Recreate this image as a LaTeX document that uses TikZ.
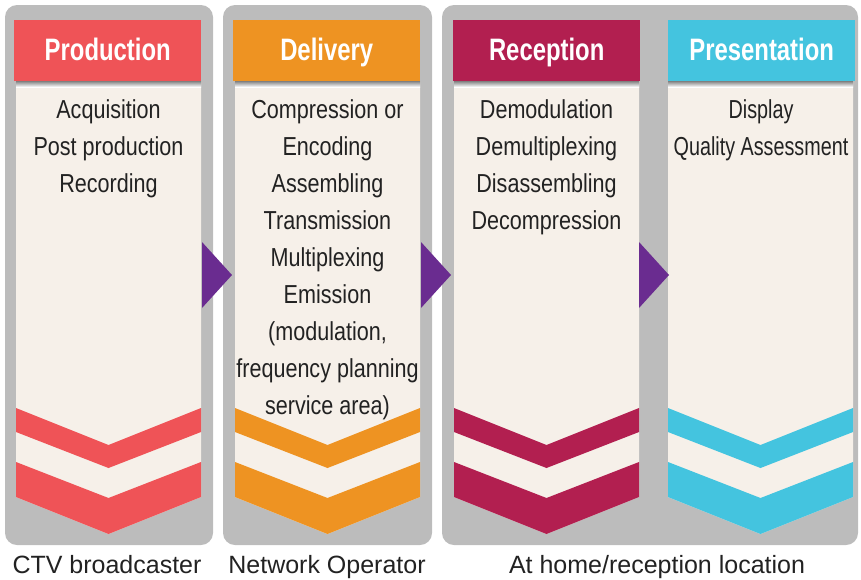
\documentclass[tikz,border=0pt]{standalone}
\usepackage{fontspec}
\setmainfont{Liberation Sans}
\newfontfamily\condfont[FakeStretch=0.83]{Liberation Sans}
\newfontfamily\tightfont[FakeStretch=0.76]{Liberation Sans}
\newfontfamily\headfont[FakeStretch=0.77]{Liberation Sans}

\definecolor{prodred}{HTML}{EF5357}
\definecolor{delorange}{HTML}{EE9322}
\definecolor{recred}{HTML}{B21F50}
\definecolor{prescyan}{HTML}{44C4DF}
\definecolor{paper}{HTML}{F6F0E9}
\definecolor{panelgrey}{HTML}{BCBCBC}
\definecolor{arrowpurple}{HTML}{6A2C90}
\definecolor{shade}{HTML}{C0B6AA}
\definecolor{ink}{HTML}{222222}

\tikzset{
    panel/.style={fill=panelgrey, rounded corners=12pt},
    header/.style={anchor=north west, minimum width=187pt, minimum height=61pt,
        inner sep=0pt, text height=23pt, text depth=4pt, text=white,
        font=\headfont\bfseries\fontsize{31}{31}\selectfont},
    steps/.style={align=center, anchor=base, inner sep=0pt, text=ink,
        font=\condfont\fontsize{26}{37}\selectfont},
    role/.style={anchor=base, inner sep=0pt, text=ink,
        font=\fontsize{25}{25}\selectfont}
}

% beige column with chevron foot: left x, colour
\newcommand{\stagecol}[2]{
    \fill[paper] (#1,81) -- ++(185,0) -- ++(0,416) -- ++(-92.5,37) -- ++(-92.5,-37) -- cycle;
    \fill[#2] (#1,408) -- ++(92.5,37) -- ++(92.5,-37) -- ++(0,24) -- ++(-92.5,36) -- ++(-92.5,-36) -- cycle;
    \fill[#2] (#1,462) -- ++(92.5,36) -- ++(92.5,-36) -- ++(0,35) -- ++(-92.5,37) -- ++(-92.5,-37) -- cycle;
    \fill[shade] (#1,81) rectangle ++(185,6);
}

\begin{document}
\begin{tikzpicture}[x=1pt, y=-1pt]
    \useasboundingbox (0,0) rectangle (861,579);

    \fill[panel] (5,5) rectangle (213,545);
    \fill[panel] (223,5) rectangle (432,545);
    \fill[panel] (442,5) rectangle (858,545);

    \stagecol{16}{prodred}
    \stagecol{235}{delorange}
    \stagecol{454}{recred}
    \stagecol{668}{prescyan}

    \node[header, fill=prodred] (prod) at (14,20) {Production};
    \node[header, fill=delorange] (deliv) at (233,20) {Delivery};
    \node[header, fill=recred] (recep) at (453,20) {Reception};
    \node[header, fill=prescyan] (pres) at (668,20) {Presentation};

    \foreach \x in {202,421,639}
        \fill[arrowpurple] (\x,242) -- ++(30,33) -- ++(-30,33) -- cycle;

    % base anchor sits on the last line
    \node[steps] (prodtasks) at (108.5,192) {Acquisition\\Post production\\Recording};
    \node[steps] (delivtasks) at (327.5,414) {Compression or\\Encoding\\Assembling\\Transmission\\Multiplexing\\Emission\\(modulation,\\frequency planning\\service area)};
    \node[steps] (receptasks) at (546.5,229) {Demodulation\\Demultiplexing\\Disassembling\\Decompression};
    \node[steps, font=\tightfont\fontsize{26}{37}\selectfont] (prestasks) at (761,155) {Display\\Quality Assessment};

    \node[role] (broadcaster) at (107,573) {CTV broadcaster};
    \node[role] (operator) at (327,573) {Network Operator};
    \node[role] (home) at (657,573) {At home/reception location};
\end{tikzpicture}
\end{document}
